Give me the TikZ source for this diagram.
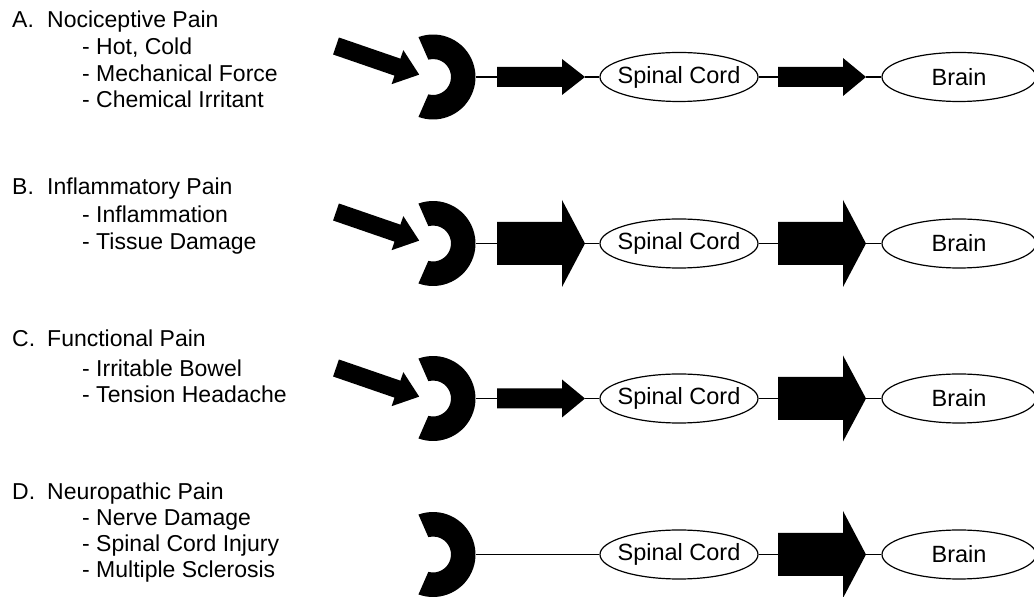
\documentclass[tikz,border=0pt]{standalone}
\usepackage{fontspec}
\setmainfont{Liberation Sans}
\usetikzlibrary{shapes.geometric}

\tikzset{
  pics/signal/.style 2 args={code={
    \fill (0,-#1) -- (65,-#1) -- (65,-#2) -- (88,0) -- (65,#2) -- (65,#1) -- (0,#1) -- cycle;
    \coordinate (-w) at (0,0);
    \coordinate (-e) at (88,0);
  }},
  pics/receptor/.style={code={
    \fill (110:42.5) arc[start angle=110,end angle=-110,radius=42.5] -- (-105:18) arc[start angle=-105,end angle=105,radius=18] -- cycle;
    \coordinate (-e) at (42.5,0);
  }},
  region/.style={draw,ellipse,line width=1.2pt,minimum height=49pt,inner sep=0pt,font=\fontsize{23.5}{27}\selectfont},
  txt/.style={anchor=base west,inner sep=0pt,font=\fontsize{23}{27}\selectfont},
  link/.style={line width=1.2pt},
}
\newcommand{\inside}[1]{\makebox[0pt]{#1}}

\begin{document}
\begin{tikzpicture}[x=1pt,y=1pt]
    \useasboundingbox (0,0) rectangle (1034,597);
    % A ====================================================
    \node[txt] (hA)  at (12,569) {A.};
    \node[txt] (tA)  at (47,569) {Nociceptive Pain};
    \node[txt] (tA1) at (82,542) {- Hot, Cold};
    \node[txt] (tA2) at (82,515) {- Mechanical Force};
    \node[txt] (tA3) at (82,489) {- Chemical Irritant};
    \pic[rotate=-19] (inA) at (336,551) {signal={9}{18}};
    \pic (rA) at (433,520) {receptor};
    \pic (sA1) at (497,520) {signal={10}{18}};
    \node[region,minimum width=158pt] (scA) at (679,520) {\inside{Spinal Cord}};
    \pic (sA2) at (778,520) {signal={10}{19}};
    \node[region,minimum width=154pt] (brA) at (959,520) {\inside{Brain}};
    \draw[link] (rA-e) -- (sA1-w) (sA1-e) -- (scA) (scA) -- (sA2-w) (sA2-e) -- (brA);
    % B ====================================================
    \node[txt] (hB)  at (12,402) {B.};
    \node[txt] (tB)  at (47,402) {Inflammatory Pain};
    \node[txt] (tB1) at (82,374) {- Inflammation};
    \node[txt] (tB2) at (82,347) {- Tissue Damage};
    \pic[rotate=-19] (inB) at (336,385) {signal={9}{18}};
    \pic (rB) at (433,353.5) {receptor};
    \pic (sB1) at (497,353.5) {signal={21.5}{43.5}};
    \node[region,minimum width=158pt] (scB) at (679,353.5) {\inside{Spinal Cord}};
    \pic (sB2) at (778,353.5) {signal={21.5}{43.5}};
    \node[region,minimum width=154pt] (brB) at (959,353.5) {\inside{Brain}};
    \draw[link] (rB-e) -- (sB1-w) (sB1-e) -- (scB) (scB) -- (sB2-w) (sB2-e) -- (brB);
    % C ====================================================
    \node[txt] (hC)  at (12,250) {C.};
    \node[txt] (tC)  at (47,250) {Functional Pain};
    \node[txt] (tC1) at (82,220) {- Irritable Bowel};
    \node[txt] (tC2) at (82,194) {- Tension Headache};
    \pic[rotate=-19] (inC) at (336,229) {signal={9}{18}};
    \pic (rC) at (433,198.5) {receptor};
    \pic (sC1) at (497,198.5) {signal={10}{19}};
    \node[region,minimum width=158pt] (scC) at (679,198.5) {\inside{Spinal Cord}};
    \pic (sC2) at (778,198.5) {signal={21.5}{43}};
    \node[region,minimum width=154pt] (brC) at (959,198.5) {\inside{Brain}};
    \draw[link] (rC-e) -- (sC1-w) (sC1-e) -- (scC) (scC) -- (sC2-w) (sC2-e) -- (brC);
    % D ====================================================
    \node[txt] (hD)  at (12,97) {D.};
    \node[txt] (tD)  at (47,97) {Neuropathic Pain};
    \node[txt] (tD1) at (82,71) {- Nerve Damage};
    \node[txt] (tD2) at (82,45) {- Spinal Cord Injury};
    \node[txt] (tD3) at (82,19) {- Multiple Sclerosis};
    \pic (rD) at (433,42.5) {receptor};
    \node[region,minimum width=158pt] (scD) at (679,42.5) {\inside{Spinal Cord}};
    \pic (sD2) at (778,42.5) {signal={21.5}{43.5}};
    \node[region,minimum width=154pt] (brD) at (959,42.5) {\inside{Brain}};
    \draw[link] (rD-e) -- (scD) (scD) -- (sD2-w) (sD2-e) -- (brD);
\end{tikzpicture}
\end{document}
